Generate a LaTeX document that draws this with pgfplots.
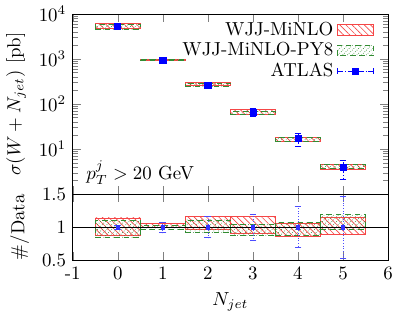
\documentclass[border=0pt]{standalone}
\usepackage{pgfplots}
\pgfplotsset{compat=1.18}
\usetikzlibrary{patterns,patterns.meta}
\definecolor{rd}{RGB}{245,70,70}
\definecolor{gn}{RGB}{50,140,50}
\pgfdeclarepatternformonly{dottedne}{\pgfqpoint{-0.5pt}{-0.5pt}}{\pgfqpoint{3pt}{3pt}}{\pgfqpoint{2.5pt}{2.5pt}}{%
  \pgfpathcircle{\pgfqpoint{0pt}{0pt}}{0.25pt}%
  \pgfpathcircle{\pgfqpoint{0.83pt}{0.83pt}}{0.25pt}%
  \pgfpathcircle{\pgfqpoint{1.67pt}{1.67pt}}{0.25pt}%
  \pgfusepath{fill}}
\tikzset{
  redbox/.style={draw=rd, line width=0.5pt, pattern={Lines[angle=-45, distance=2.3pt, line width=0.35pt]}, pattern color=rd},
  greenbox/.style={draw=gn, densely dashed, line width=0.5pt, pattern=dottedne, pattern color=gn},
}
\pgfplotsset{
  boxlegend/.style={legend image code/.code={\draw[##1] (0cm,-0.1cm) rectangle (0.67cm,0.1cm);}},
  atlaslegend/.style={legend image code/.code={%
    \draw[blue, densely dashdotted, line width=0.4pt] (0cm,0cm) -- (0.67cm,0cm);
    \draw[blue, line width=0.4pt] (0cm,-1.5pt) -- (0cm,1.5pt) (0.67cm,-1.5pt) -- (0.67cm,1.5pt);
    \fill[blue] (0.335cm,0cm) +(-1.6pt,-1.6pt) rectangle +(1.6pt,1.6pt);}},
}
\newcommand\rbox[4]{\addplot[redbox, forget plot] coordinates {(#1,#3) (#2,#3) (#2,#4) (#1,#4)} --cycle;}
\newcommand\gbox[4]{\addplot[greenbox, forget plot] coordinates {(#1,#3) (#2,#3) (#2,#4) (#1,#4)} --cycle;}
\begin{document}
\begin{tikzpicture}
\begin{axis}[name=top, scale only axis, width=167pt, height=95.5pt,
  ymode=log, xmin=-1, xmax=6, ymin=1, ymax=10000,
  ytick={10,100,1000,10000},
  minor ytick={2,3,4,5,6,7,8,9,20,30,40,50,60,70,80,90,200,300,400,500,600,700,800,900,2000,3000,4000,5000,6000,7000,8000,9000},
  xtick={-1,0,...,6}, xticklabels={},
  ylabel={$\sigma(W+N_{jet})$ [pb]},
  legend style={draw=none, fill=none, at={(0.975,1.0)}, anchor=north east, row sep=-1.7pt},
  legend cell align=right, legend plot pos=right]
% red boxes
\rbox{-0.5}{0.5}{4750}{6160}
\rbox{0.5}{1.5}{940}{1000}
\rbox{1.5}{2.5}{257}{307}
\rbox{2.5}{3.5}{59.4}{76.6}
\rbox{3.5}{4.5}{14.6}{17.9}
\addplot[redbox, boxlegend]
  coordinates {(4.5,3.47) (5.5,3.47) (5.5,4.49) (4.5,4.49)} --cycle;
\addlegendentry{WJJ-MiNLO}
% green boxes
\gbox{-0.5}{0.5}{4590}{5940}
\gbox{0.5}{1.5}{922}{979}
\gbox{1.5}{2.5}{244}{294}
\gbox{2.5}{3.5}{58.1}{68.6}
\gbox{3.5}{4.5}{14.8}{18.2}
\addplot[greenbox, boxlegend]
  coordinates {(4.5,3.74) (5.5,3.74) (5.5,4.68) (4.5,4.68)} --cycle;
\addlegendentry{WJJ-MiNLO-PY8}
% ATLAS
\addplot[blue, only marks, mark=square*, mark size=1.6pt, atlaslegend,
  error bars/.cd, y dir=both, y explicit,
  error bar style={blue, densely dashdotted, line width=0.4pt},
  error mark options={blue, solid, mark size=1.8pt, rotate=90},
  ] coordinates {
  (0,5400) +- (0,160)
  (1,950) +- (0,70)
  (2,265) +- (0,42)
  (3,66) +- (0,13)
  (4,17) +- (0,5.3)
  (5,3.9) +- (0,1.8)
};
\addlegendentry{ATLAS}
\node[anchor=base west, inner sep=0pt] at (rel axis cs:0.042,0.084) {$p_T^j > 20$ GeV};
\end{axis}
\begin{axis}[at={(top.south west)}, anchor=north west, scale only axis,
  width=167pt, height=35pt,
  xmin=-1, xmax=6, ymin=0.5, ymax=1.5,
  ytick={0.5,1,1.5}, yticklabels={0.5,1,1.5},
  xtick={-1,0,...,6}, xticklabels={-1,0,1,2,3,4,5,6},
  xlabel={$N_{jet}$}, ylabel={\#/Data}]
\rbox{-0.5}{0.5}{0.88}{1.14}
\rbox{0.5}{1.5}{0.99}{1.05}
\rbox{1.5}{2.5}{0.97}{1.16}
\rbox{2.5}{3.5}{0.90}{1.16}
\rbox{3.5}{4.5}{0.86}{1.05}
\rbox{4.5}{5.5}{0.89}{1.15}
\gbox{-0.5}{0.5}{0.85}{1.10}
\gbox{0.5}{1.5}{0.97}{1.03}
\gbox{1.5}{2.5}{0.92}{1.11}
\gbox{2.5}{3.5}{0.88}{1.04}
\gbox{3.5}{4.5}{0.87}{1.07}
\gbox{4.5}{5.5}{0.96}{1.20}
\addplot[black, line width=0.5pt, forget plot] coordinates {(-1,1) (6,1)};
\addplot[blue!80, only marks, mark=square*, mark size=1pt,
  error bars/.cd, y dir=both, y explicit,
  error bar style={blue!70, densely dotted, line width=0.4pt},
  error mark options={blue!70, solid, mark size=1.8pt, rotate=90},
  ] coordinates {
  (0,1) +- (0,0.03)
  (1,1) +- (0,0.08)
  (2,1) +- (0,0.16)
  (3,1) +- (0,0.20)
  (4,1) +- (0,0.31)
  (5,1) +- (0,0.47)
};
\end{axis}
\end{tikzpicture}
\end{document}
